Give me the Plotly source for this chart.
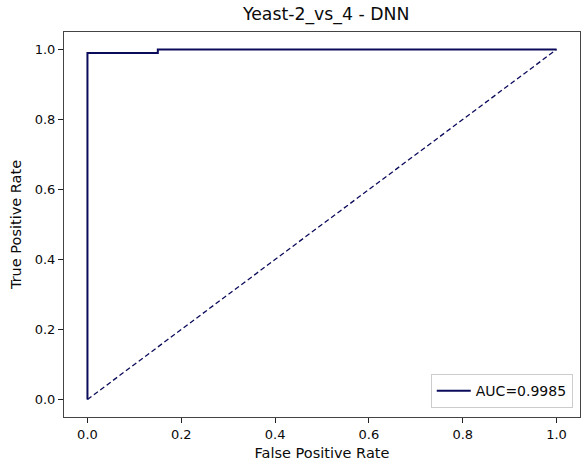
import plotly.graph_objects as go

# ROC curve data
fpr = [0.0, 0.0, 0.15, 0.15, 1.0]
tpr = [0.0, 0.99, 0.99, 1.0, 1.0]
diag_x = [0.0, 1.0]
diag_y = [0.0, 1.0]
auc_label = "AUC=0.9985"
title_text = "Yeast-2_vs_4 - DNN"
tick_vals = [0.0, 0.2, 0.4, 0.6, 0.8, 1.0]
tick_text = ["0.0", "0.2", "0.4", "0.6", "0.8", "1.0"]

FONT = "DejaVu Sans"
NAVY = "#0b0b5c"
TXT = "#0a0a0a"

fig = go.Figure()
fig.add_trace(go.Scatter(x=fpr, y=tpr, mode="lines", name=auc_label,
                         line=dict(color=NAVY, width=2)))
fig.add_trace(go.Scatter(x=diag_x, y=diag_y, mode="lines", showlegend=False,
                         line=dict(color=NAVY, width=1.3, dash="5px,3px")))

axis_common = dict(
    range=[-0.05, 1.05], showgrid=False, zeroline=False, automargin=False,
    showline=True, linecolor="#444444", linewidth=1, mirror=True,
    ticks="outside", ticklen=5, tickcolor="#222222", tickwidth=1,
    tickvals=tick_vals, ticktext=tick_text,
    tickfont=dict(family=FONT, size=13, color=TXT),
)

fig.update_layout(
    template="plotly_white",
    width=581, height=465,
    margin=dict(l=64, r=1, t=32, b=48, autoexpand=False),
    paper_bgcolor="white", plot_bgcolor="white",
    font=dict(family=FONT, color=TXT),
    title=dict(text=title_text, x=0.508, xanchor="center", xref="paper",
               y=1 - 14/465, yanchor="middle", yref="container", automargin=False,
               font=dict(family=FONT, size=17.3, color=TXT)),
    xaxis=dict(**axis_common,
               title=dict(text="False Positive Rate", standoff=7,
                          font=dict(family=FONT, size=14.5, color=TXT))),
    yaxis=dict(**axis_common,
               title=dict(text="True Positive Rate", standoff=9,
                          font=dict(family=FONT, size=14.5, color=TXT))),
    legend=dict(x=0.986, y=0.023, xanchor="right", yanchor="bottom",
                bordercolor="#cccccc", borderwidth=1, bgcolor="rgba(255,255,255,0.9)",
                font=dict(family=FONT, size=14, color=TXT),
                itemwidth=34, tracegroupgap=0),
    showlegend=True,
)

fig.write_html("out.html", config={"displayModeBar": False},
               post_script="document.body.style.margin='0';document.body.style.overflow='hidden';")
